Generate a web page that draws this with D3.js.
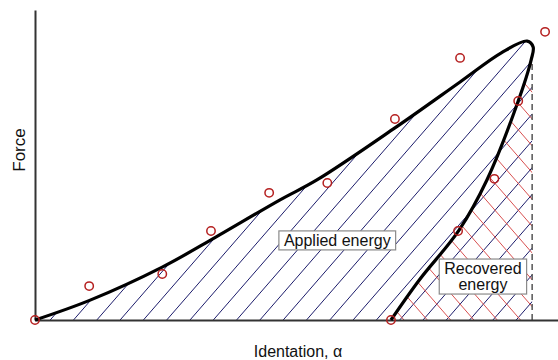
<!DOCTYPE html>
<html>
<head>
<meta charset="utf-8">
<script src="https://cdn.jsdelivr.net/npm/d3@7/dist/d3.min.js"></script>
<style>
  html, body { margin: 0; padding: 0; background: #fff; }
  svg { display: block; }
  text { font-family: "Liberation Sans", Arial, sans-serif; fill: #111; }
</style>
</head>
<body>
<svg id="chart" width="558" height="360"></svg>
<script>
// Loading branch of the force–indentation curve (indentation, force)
const loadIndent = [0, 11.1, 25.6, 35.4, 49.3, 56.7, 72.4, 85.5, 93.8, 99.0, 100.2];
const loadForce  = [0, 7.1, 18.9, 28.6, 42.9, 50.0, 68.6, 85.0, 95.4, 99.6, 97.5];

// Unloading branch, from the turning point back to zero force
const unloadIndent = [99.8, 97.2, 90.9, 85.3, 77.3, 71.6];
const unloadForce  = [92.9, 78.2, 50.0, 32.1, 14.3, 0];

// Measured points
const measIndent = [0, 10.9, 25.6, 35.4, 47.1, 58.8, 72.4, 85.5, 102.6, 97.2, 92.4, 85.1, 71.6];
const measForce  = [0, 12.1, 16.4, 31.8, 45.4, 48.9, 71.8, 93.6, 102.9, 78.2, 50.4, 31.8, 0];

// Maximum indentation and the force where the unloading branch meets it
const maxIndent = 100;
const maxIndentForce = 92.1;

// Annotation labels: text lines and anchor (indentation, force)
const labelLines = [["Applied energy"], ["Recovered", "energy"]];
const labelAt = [[60.8, 28.6], [90.1, 15.7]];

const xTitle = "Identation, \u03B1";
const yTitle = "Force";

const svg = d3.select("#chart");
const x = d3.scaleLinear().domain([0, 105.2]).range([35, 558]);
const y = d3.scaleLinear().domain([0, 110.7]).range([320, 10]);

const loadPts = loadIndent.map((v, i) => [v, loadForce[i]]);
const unloadPts = unloadIndent.map((v, i) => [v, unloadForce[i]]);
const loopPts = loadPts.concat(unloadPts);

const line = d3.line()
  .x(d => x(d[0]))
  .y(d => y(d[1]))
  .curve(d3.curveCatmullRom.alpha(0.5));

const defs = svg.append("defs");

// Everything hatched stays left of the maximum-indentation line
defs.append("clipPath").attr("id", "clipMax")
  .append("rect")
  .attr("x", x(0)).attr("y", 0)
  .attr("width", x(maxIndent) - x(0)).attr("height", y(0));

// Area under the loading branch
defs.append("clipPath").attr("id", "clipApplied")
  .append("path")
  .attr("d", line(loadPts) + `L${x(101)},${y(0)}L${x(0)},${y(0)}Z`);

// Area between the unloading branch and the maximum-indentation line
const recPts = loadPts.slice(-2).concat(unloadPts);
defs.append("clipPath").attr("id", "clipRecovered")
  .append("path")
  .attr("d", line(recPts) + `L${x(101)},${y(0)}L${x(101)},${y(100)}Z`);

// Hatch line generator: parallel lines crossing the baseline every `step` px
function hatch(g, x0, step, angleDeg, dir, color) {
  const a = angleDeg * Math.PI / 180;
  const len = 700;
  const dx = Math.cos(a) * len * dir, dy = -Math.sin(a) * len;
  const ks = d3.range(-40, 40);
  g.selectAll("line").data(ks).join("line")
    .attr("x1", k => x0 + k * step)
    .attr("y1", y(0))
    .attr("x2", k => x0 + k * step + dx)
    .attr("y2", y(0) + dy)
    .attr("stroke", color)
    .attr("stroke-width", 1);
}

const hatchArea = svg.append("g").attr("clip-path", "url(#clipMax)");

const blue = hatchArea.append("g").attr("clip-path", "url(#clipApplied)");
hatch(blue, 190, 23.3, 49, 1, "#1c1c6b");

const red = hatchArea.append("g").attr("clip-path", "url(#clipRecovered)");
hatch(red, 404, 23.3, 49, -1, "#d85050");

// Maximum indentation marker
svg.append("line")
  .attr("x1", x(maxIndent)).attr("x2", x(maxIndent))
  .attr("y1", y(0)).attr("y2", y(maxIndentForce))
  .attr("stroke", "#555").attr("stroke-width", 1.5)
  .attr("stroke-dasharray", "6,4");

// Axes without ticks
svg.append("g")
  .attr("transform", `translate(0,${y(0)})`)
  .call(d3.axisBottom(x).tickValues([]).tickSizeOuter(0))
  .select(".domain").attr("stroke", "#333").attr("stroke-width", 2);
svg.append("g")
  .attr("transform", `translate(${x(0)},0)`)
  .call(d3.axisLeft(y).tickValues([]).tickSizeOuter(0))
  .select(".domain").attr("stroke", "#333").attr("stroke-width", 2);

// Hysteresis loop
svg.append("path")
  .attr("d", line(loopPts))
  .attr("fill", "none")
  .attr("stroke", "#000")
  .attr("stroke-width", 3.2)
  .attr("stroke-linejoin", "round");

// Measured points
svg.append("g").selectAll("circle")
  .data(measIndent.map((v, i) => [v, measForce[i]]))
  .join("circle")
  .attr("cx", d => x(d[0]))
  .attr("cy", d => y(d[1]))
  .attr("r", 4.2)
  .attr("fill", "none")
  .attr("stroke", "#b52020")
  .attr("stroke-width", 1.5);

// Boxed annotations
labelLines.forEach((lines, i) => {
  const g = svg.append("g");
  const cx = x(labelAt[i][0]), cy = y(labelAt[i][1]);
  const lh = 16;
  const rect = g.append("rect").attr("fill", "#fff").attr("stroke", "#8a8a8a").attr("stroke-width", 1.2);
  const t = g.append("text")
    .attr("text-anchor", "middle")
    .attr("font-size", 16);
  lines.forEach((s, j) => {
    t.append("tspan")
      .attr("x", cx)
      .attr("y", cy + 6 + (j - (lines.length - 1) / 2) * lh)
      .text(s);
  });
  const bb = t.node().getBBox();
  rect.attr("x", bb.x - 5).attr("y", bb.y - 1)
      .attr("width", bb.width + 10).attr("height", bb.height + 2);
});

// Axis titles
svg.append("text")
  .attr("x", 298)
  .attr("y", 357)
  .attr("text-anchor", "middle")
  .attr("font-size", 16)
  .text(xTitle);

svg.append("text")
  .attr("transform", `translate(25,150) rotate(-90)`)
  .attr("text-anchor", "middle")
  .attr("font-size", 17)
  .text(yTitle);
</script>
</body>
</html>
